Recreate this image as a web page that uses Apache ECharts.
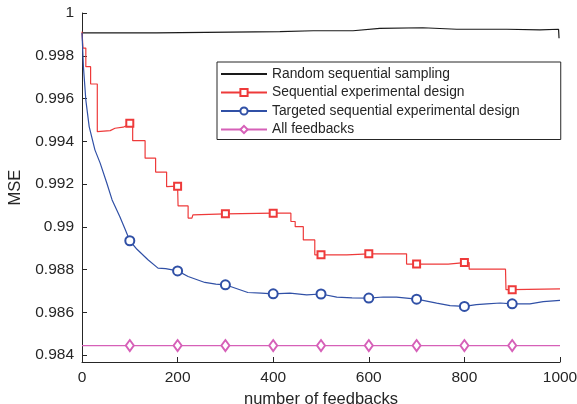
<!DOCTYPE html>
<html>
<head>
<meta charset="utf-8">
<script src="https://cdn.jsdelivr.net/npm/echarts@6/dist/echarts.min.js"></script>
<style>
html, body { margin: 0; padding: 0; background: #fff; }
#main { width: 577px; height: 404px; }
</style>
</head>
<body>
<div id="main"></div>
<script>
var seriesNames = [
	'Random sequential sampling',
	'Sequential experimental design',
	'Targeted sequential experimental design',
	'All feedbacks'
];

// x positions where MATLAB drew markers
var markerXs = [100, 200, 300, 400, 500, 600, 700, 800, 900];

var yTickValues = [0.984, 0.986, 0.988, 0.99, 0.992, 0.994, 0.996, 0.998, 1];
var yTickLabels = ['0.984', '0.986', '0.988', '0.99', '0.992', '0.994', '0.996', '0.998', '1'];

// Random sequential sampling
var randX = [0, 155, 156, 414, 484, 567, 623, 713, 784, 889, 958, 997, 998];
var randY = [0.99907, 0.99907, 0.99910, 0.99913, 0.99917, 0.99917, 0.99928, 0.99931, 0.99924, 0.99924, 0.99921, 0.99924, 0.99882];

// Sequential experimental design (step-like)
var seqX = [0, 2, 8, 8, 18, 18, 32, 32, 59, 69, 86, 97, 100, 106, 106, 132, 132, 154, 154, 177, 177, 200, 201, 201,
	222, 222, 230, 232, 300, 400, 437, 437, 446, 446, 463, 463, 487, 487, 500, 554, 556, 600, 679, 679, 700,
	766, 768, 800, 810, 810, 886, 887, 900, 903, 1000];
var seqY = [0.99913, 0.99836, 0.99836, 0.99749, 0.99749, 0.99668, 0.99668, 0.99445, 0.99450, 0.99461, 0.99466, 0.99477, 0.99485, 0.99485, 0.99403, 0.99403, 0.99321, 0.99321, 0.99256, 0.99256, 0.99188, 0.99190, 0.99190, 0.99098,
	0.99098, 0.99041, 0.99041, 0.99056, 0.99061, 0.99064, 0.99064, 0.99025, 0.99025, 0.99001, 0.99001, 0.98939, 0.98939, 0.98869, 0.98869, 0.98869, 0.98874, 0.98874, 0.98874, 0.98826, 0.98826,
	0.98826, 0.98833, 0.98833, 0.98833, 0.98802, 0.98802, 0.98706, 0.98706, 0.98709, 0.98710];

// Targeted sequential experimental design
var tgtX = [0, 3, 8, 15, 27, 38, 52, 63, 79, 90, 100, 115, 138, 159, 175, 200, 222, 257, 280, 300, 347, 375, 400,
	435, 470, 500, 533, 565, 600, 630, 658, 700, 742, 770, 800, 825, 847, 875, 900, 937, 965, 1000];
var tgtY = [0.99907, 0.99749, 0.99593, 0.99469, 0.99360, 0.99298, 0.99204, 0.99126, 0.99048, 0.98990, 0.98935, 0.98895, 0.98846, 0.98807, 0.98805, 0.98794, 0.98768, 0.98740, 0.98732, 0.98729, 0.98693, 0.98690, 0.98687,
	0.98690, 0.98682, 0.98686, 0.98671, 0.98668, 0.98667, 0.98672, 0.98671, 0.98662, 0.98643, 0.98632, 0.98628, 0.98636, 0.98640, 0.98644, 0.98640, 0.98640, 0.98650, 0.98656];

// All feedbacks
var allX = [0, 100, 200, 300, 400, 500, 600, 700, 800, 900, 1000];
var allY = [0.98445, 0.98445, 0.98445, 0.98445, 0.98445, 0.98445, 0.98445, 0.98445, 0.98445, 0.98445, 0.98445];

function pairs(xs, ys, withMarkers) {
	var res = [];
	var used = {};
	for (var i = 0; i < xs.length; i++) {
		var item = { value: [xs[i], ys[i]] };
		if (!withMarkers || markerXs.indexOf(xs[i]) < 0 || used[xs[i]]) {
			item.symbol = 'none';
		} else {
			used[xs[i]] = true;
		}
		res.push(item);
	}
	return res;
}

var axisColor = '#262626';
var fontFam = 'Liberation Sans, Arial, sans-serif';

var chart = echarts.init(document.getElementById('main'), null, { renderer: 'canvas' });

chart.setOption({
	animation: false,
	backgroundColor: '#fff',
	grid: { left: 82, right: 17, top: 13, bottom: 42, containLabel: false, outerBoundsMode: 'none' },
	legend: {
		orient: 'vertical',
		left: 217,
		top: 62,
		padding: [5, 41, 3, 3],
		itemWidth: 46,
		itemHeight: 9,
		itemGap: 4.5,
		borderColor: axisColor,
		borderWidth: 1,
		borderRadius: 0,
		backgroundColor: '#fff',
		textStyle: { fontFamily: fontFam, fontSize: 13.8, color: axisColor },
		data: [
			{ name: seriesNames[0], itemStyle: { opacity: 0 } },
			seriesNames[1],
			seriesNames[2],
			seriesNames[3]
		]
	},
	xAxis: {
		type: 'value',
		min: 0,
		max: 1000,
		interval: 200,
		name: 'number of feedbacks',
		nameLocation: 'middle',
		nameGap: 27,
		nameTextStyle: { fontFamily: fontFam, fontSize: 16.5, color: axisColor },
		axisLine: { lineStyle: { color: axisColor, width: 1 } },
		axisTick: { inside: true, length: 5, lineStyle: { color: axisColor } },
		axisLabel: {
			fontFamily: fontFam,
			fontSize: 15.5,
			color: axisColor,
			margin: 8,
			formatter: function (v) { return String(v); }
		},
		splitLine: { show: false }
	},
	yAxis: {
		type: 'value',
		min: 0.98368,
		max: 1,
		name: 'MSE',
		nameLocation: 'middle',
		nameGap: 58,
		nameTextStyle: { fontFamily: fontFam, fontSize: 16.5, color: axisColor },
		axisLine: { show: true, lineStyle: { color: axisColor, width: 1 } },
		axisTick: { inside: true, length: 5, customValues: yTickValues, lineStyle: { color: axisColor } },
		axisLabel: {
			fontFamily: fontFam,
			fontSize: 15.5,
			color: axisColor,
			margin: 8,
			customValues: yTickValues,
			formatter: function (v) {
				for (var i = 0; i < yTickValues.length; i++) {
					if (Math.abs(yTickValues[i] - v) < 1e-7) return yTickLabels[i];
				}
				return '';
			}
		},
		splitLine: { show: false }
	},
	series: [{
		name: seriesNames[0],
		type: 'line',
		color: '#1a1a1a',
		symbol: 'none',
		lineStyle: { width: 1.2 },
		data: pairs(randX, randY, false)
	}, {
		name: seriesNames[1],
		type: 'line',
		color: '#ee3a3a',
		symbol: 'emptyRect',
		symbolSize: 7,
		showAllSymbol: true,
		lineStyle: { width: 1.2 },
		itemStyle: { borderWidth: 1.2 },
		data: pairs(seqX, seqY, true)
	}, {
		name: seriesNames[2],
		type: 'line',
		color: '#3050a6',
		symbol: 'emptyCircle',
		symbolSize: 9,
		showAllSymbol: true,
		lineStyle: { width: 1.2 },
		itemStyle: { borderWidth: 1.2 },
		data: pairs(tgtX, tgtY, true)
	}, {
		name: seriesNames[3],
		type: 'line',
		color: '#d660b8',
		symbol: 'emptyDiamond',
		symbolSize: [8, 11],
		showAllSymbol: true,
		lineStyle: { width: 1.2 },
		itemStyle: { borderWidth: 1.2 },
		data: pairs(allX, allY, true)
	}]
});
</script>
</body>
</html>
